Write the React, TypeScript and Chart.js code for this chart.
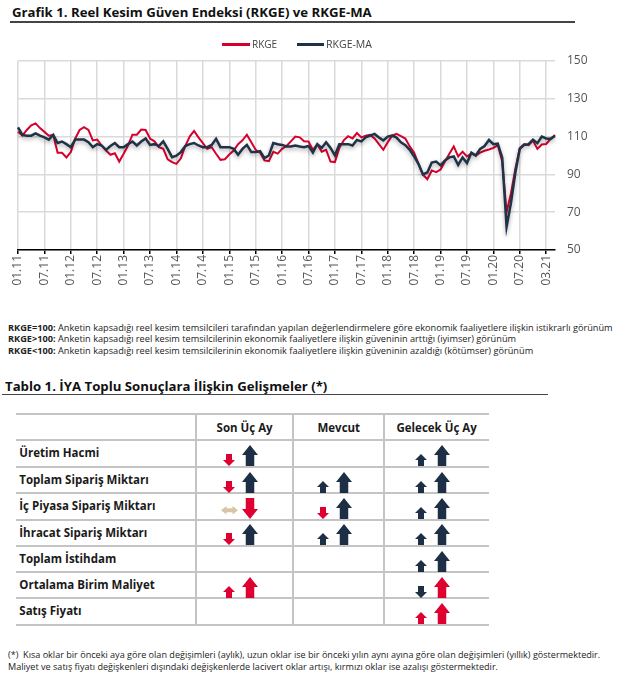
import React, { useEffect, useLayoutEffect, useRef, useState } from "react";
import { Chart, registerables } from "chart.js";

Chart.register(...registerables);

// ---------------- DATA ----------------
const START_YEAR = 2011;
const N_MONTHS = 123;
const MONTHS: string[] = Array.from({ length: N_MONTHS }, (_, i) => {
  const m = (i % 12) + 1;
  const y = (START_YEAR + Math.floor(i / 12)) % 100;
  return `${String(m).padStart(2, "0")}.${String(y).padStart(2, "0")}`;
});

const TICK_LABELS = [
  "01.11", "07.11", "01.12", "07.12", "01.13", "07.13", "01.14", "07.14", "01.15", "07.15",
  "01.16", "07.16", "01.17", "07.17", "01.18", "07.18", "01.19", "07.19", "01.20", "07.20", "03.21",
];

const RKGE = [
  112.6, 110.5, 113.5, 116, 117, 114.5, 112.5, 110.5, 110.9, 101.4, 101.4, 99,
  101.8, 109, 113.5, 115, 113.5, 108, 108.4, 105.3, 102.6, 100.4, 101.2, 96.8,
  100.9, 105.3, 111, 111, 113.7, 113.5, 109, 107.5, 104.4, 103.5, 98, 96.5,
  95.6, 98.5, 105, 110, 113, 109.6, 106.5, 103.5, 104.4, 100.9, 97.7, 98,
  100.5, 102.6, 106, 108, 111, 107, 103, 101.5, 97.4, 97, 102, 101,
  103.5, 105, 107.5, 110, 109.6, 107.5, 107.4, 103, 106, 102, 103, 96.8,
  96.5, 104, 108, 110.2, 109, 111.9, 109.6, 110.5, 111, 109, 106, 103,
  107, 110.5, 111.4, 110.2, 109, 104.8, 101.5, 95.5, 89.8, 87.4, 92.1, 91.2,
  92.6, 96.8, 100.9, 104.8, 99.5, 102, 99.5, 101, 100, 101.5, 102.5, 103.2,
  104, 105.5, 97, 70, 80, 93, 104, 106, 105.5, 107.9, 103.5, 105.8,
  106.1, 108.8, 110.9,
];

const RKGE_MA = [
  114.9, 110.9, 110.5, 110.5, 111.7, 110.5, 109.6, 108.4, 110.9, 106.6, 107.4, 106,
  104.4, 108.4, 108.4, 108.4, 107, 104.4, 106, 105.3, 103, 105, 106.6, 104.4,
  104.4, 106, 107.4, 105.3, 107.4, 109, 105.6, 106, 105, 107.5, 103.5, 99.1,
  99.9, 101.8, 105, 106, 106.6, 105.3, 104.4, 104.4, 105.6, 108.8, 104.4, 104.4,
  104.4, 103.5, 100.4, 103.5, 105.6, 101.8, 101.8, 102.3, 98.6, 100, 106.6, 106,
  105.6, 104.8, 104.8, 105.3, 104.8, 104.4, 105, 101.5, 106, 104, 107, 104,
  100, 106, 106, 106, 105.3, 108.2, 107.5, 109.6, 110.5, 111.4, 109.5, 108,
  110, 110.5, 109.5, 107, 105.5, 103, 99.5, 95.5, 90, 91, 96.3, 96.8,
  94.8, 97.4, 99, 99.5, 95, 99, 96, 101.5, 100, 103.5, 105, 108.2,
  106, 106.3, 99, 62.3, 75, 91, 103.5, 105.6, 106, 108.4, 106.5, 110,
  109, 108.8, 110.3,
];

const Y_MIN = 50;
const Y_MAX = 150;
const Y_STEP = 20;

const TITLE = "Grafik 1. Reel Kesim Güven Endeksi (RKGE) ve RKGE-MA";
const SERIES_NAMES = ["RKGE", "RKGE-MA"];

const NOTES: [string, string][] = [
  ["RKGE=100:", " Anketin kapsadığı reel kesim temsilcileri tarafından yapılan değerlendirmelere göre ekonomik faaliyetlere ilişkin istikrarlı görünüm"],
  ["RKGE>100:", " Anketin kapsadığı reel kesim temsilcilerinin ekonomik faaliyetlere ilişkin güveninin arttığı (iyimser) görünüm"],
  ["RKGE<100:", " Anketin kapsadığı reel kesim temsilcilerinin ekonomik faaliyetlere ilişkin güveninin azaldığı (kötümser) görünüm"],
];

const TABLE_TITLE = "Tablo 1. İYA Toplu Sonuçlara İlişkin Gelişmeler (*)";
const TABLE_COLUMNS = ["Son Üç Ay", "Mevcut", "Gelecek Üç Ay"];
const TABLE_ROWS = [
  "Üretim Hacmi",
  "Toplam Sipariş Miktarı",
  "İç Piyasa Sipariş Miktarı",
  "İhracat Sipariş Miktarı",
  "Toplam İstihdam",
  "Ortalama Birim Maliyet",
  "Satış Fiyatı",
];
// each cell: [short (monthly) arrow, long (yearly) arrow] as "color-direction"
const SON_UC_AY: (string[] | null)[] = [
  ["red-down", "navy-up"],
  ["red-down", "navy-up"],
  ["tan-both", "red-down"],
  ["red-down", "navy-up"],
  null,
  ["red-up", "red-up"],
  null,
];
const MEVCUT: (string[] | null)[] = [
  null,
  ["navy-up", "navy-up"],
  ["red-down", "navy-up"],
  ["navy-up", "navy-up"],
  null,
  null,
  null,
];
const GELECEK_UC_AY: (string[] | null)[] = [
  ["navy-up", "navy-up"],
  ["navy-up", "navy-up"],
  ["navy-up", "navy-up"],
  ["navy-up", "navy-up"],
  ["navy-up", "navy-up"],
  ["navy-down", "red-up"],
  ["red-up", "red-up"],
];

const FOOTNOTES = [
  "(*)  Kısa oklar bir önceki aya göre olan değişimleri (aylık), uzun oklar ise bir önceki yılın aynı ayına göre olan değişimleri (yıllık) göstermektedir.",
  "Maliyet ve satış fiyatı değişkenleri dışındaki değişkenlerde lacivert oklar artışı, kırmızı oklar ise azalışı göstermektedir.",
];

// ---------------- STYLE ----------------
const FONT = "'Open Sans', 'Noto Sans', sans-serif";
const LINE_RED = "#d7002d";
const LINE_NAVY = "#1f3247";
const ARROW_RED = "#df0032";
const ARROW_NAVY = "#1d2f45";
const ARROW_TAN = "#d9c4a6";
const TEXT = "#1a1a1a";

function Fit({ w, style, children }: any) {
  const ref = useRef<HTMLDivElement>(null);
  const [s, setS] = useState(1);
  useLayoutEffect(() => {
    if (ref.current) {
      const n = ref.current.offsetWidth;
      if (n) setS(w / n);
    }
  }, [w]);
  return (
    <div
      ref={ref}
      style={{
        position: "absolute",
        whiteSpace: "pre",
        transform: `scaleX(${s})`,
        transformOrigin: "0 0",
        fontFamily: FONT,
        ...style,
      }}
    >
      {children}
    </div>
  );
}

const shadowPlugin = {
  id: "lineShadow",
  beforeDatasetDraw(chart: any, args: any) {
    if (args.index === 1) {
      const ctx = chart.ctx;
      ctx.save();
      ctx.shadowColor = "rgba(0,0,0,0.35)";
      ctx.shadowBlur = 4;
      ctx.shadowOffsetY = 2;
    }
  },
  afterDatasetDraw(chart: any, args: any) {
    if (args.index === 1) chart.ctx.restore();
  },
};

function LineChart() {
  const ref = useRef<HTMLCanvasElement>(null);
  useEffect(() => {
    if (!ref.current) return;
    const chart = new Chart(ref.current, {
      type: "line",
      data: {
        labels: MONTHS,
        datasets: [
          {
            label: SERIES_NAMES[0],
            data: RKGE,
            borderColor: LINE_RED,
            backgroundColor: LINE_RED,
            borderWidth: 2,
            pointRadius: 0,
            tension: 0,
            order: 1,
          },
          {
            label: SERIES_NAMES[1],
            data: RKGE_MA,
            borderColor: LINE_NAVY,
            backgroundColor: LINE_NAVY,
            borderWidth: 2.5,
            pointRadius: 0,
            tension: 0,
            order: 0,
          },
        ],
      },
      options: {
        animation: false,
        responsive: false,
        maintainAspectRatio: false,
        layout: { padding: { top: 21, left: 18, right: 0, bottom: 0 } },
        plugins: { legend: { display: false }, tooltip: { enabled: false } },
        scales: {
          x: {
            grid: { color: "#dadada", lineWidth: 1.5, tickLength: 4, tickColor: "#000" },
            border: { color: "#000", width: 1.5 },
            ticks: {
              autoSkip: false,
              minRotation: 90,
              maxRotation: 90,
              padding: 1,
              color: "#555",
              font: { family: "Open Sans", size: 12 },
              callback: (_v: any, i: number) => (i % 6 === 0 ? TICK_LABELS[i / 6] : null),
            },
            afterFit: (s: any) => {
              s.height = 50;
            },
          },
          y: {
            position: "right",
            min: Y_MIN,
            max: Y_MAX,
            grid: { color: "#dadada", lineWidth: 1.5, drawTicks: false },
            border: { display: false },
            ticks: {
              stepSize: Y_STEP,
              padding: 12,
              color: "#555",
              font: { family: "Open Sans", size: 12 },
            },
            afterFit: (s: any) => {
              s.width = 63;
            },
          },
        },
      } as any,
      plugins: [shadowPlugin],
    });
    return () => chart.destroy();
  }, []);
  return (
    <canvas
      ref={ref}
      width={618}
      height={260}
      style={{ position: "absolute", left: 0, top: 40, width: 618, height: 260 }}
    />
  );
}

function Arrow({ spec, big, cx, bottom }: { spec: string; big: boolean; cx: number; bottom: number }) {
  const [color, dir] = spec.split("-");
  const fill = color === "red" ? ARROW_RED : color === "navy" ? ARROW_NAVY : ARROW_TAN;
  if (dir === "both") {
    const W = 17, H = 8.5, hw = 5.5, sh = 4;
    const pts = [
      [0, H / 2], [hw, 0], [hw, H / 2 - sh / 2], [W - hw, H / 2 - sh / 2], [W - hw, 0], [W, H / 2],
      [W - hw, H], [W - hw, H / 2 + sh / 2], [hw, H / 2 + sh / 2], [hw, H],
    ];
    return (
      <svg width={W} height={H} style={{ position: "absolute", left: cx - W / 2, top: bottom - 4.5 - H }}>
        <polygon points={pts.map((p) => p.join(",")).join(" ")} fill={fill} />
      </svg>
    );
  }
  const W = big ? 16 : 12;
  const H = big ? 21 : 12;
  const hh = big ? 10 : 6;
  const sw = big ? 8.5 : 6;
  let pts = [
    [W / 2, 0], [W, hh], [W / 2 + sw / 2, hh], [W / 2 + sw / 2, H],
    [W / 2 - sw / 2, H], [W / 2 - sw / 2, hh], [0, hh],
  ];
  if (dir === "down") pts = pts.map(([x, y]) => [x, H - y]);
  return (
    <svg width={W} height={H} style={{ position: "absolute", left: cx - W / 2, top: bottom - H }}>
      <polygon points={pts.map((p) => p.join(",")).join(" ")} fill={fill} />
    </svg>
  );
}

function Table() {
  const left = 16;
  const colX = [196, 293.3, 384.3, 489];
  const rowY = [414.3, 440, 466.7, 493.3, 520, 546, 572.3, 598.3, 625];
  const lineColor = "#c4c4c4";
  const cols = [SON_UC_AY, MEVCUT, GELECEK_UC_AY];
  const els: any[] = [];
  rowY.forEach((y, i) =>
    els.push(
      <div key={"h" + i} style={{ position: "absolute", left, top: y - 1, width: colX[3] - left, height: 2, background: lineColor }} />
    )
  );
  colX.slice(0, 3).forEach((x, i) =>
    els.push(
      <div key={"v" + i} style={{ position: "absolute", left: x - 1, top: rowY[0], width: 2, height: rowY[8] - rowY[0], background: lineColor }} />
    )
  );
  TABLE_COLUMNS.forEach((c, i) => {
    const cx = (colX[i] + colX[i + 1]) / 2;
    els.push(
      <div key={"c" + i} style={{ position: "absolute", left: cx - 60, width: 120, top: 427.5 - 8, lineHeight: "16px", textAlign: "center", fontFamily: FONT, fontWeight: 700, fontSize: 11.5, color: TEXT }}>
        {c}
      </div>
    );
  });
  TABLE_ROWS.forEach((r, i) => {
    const top = rowY[i + 1];
    const bottom = rowY[i + 2];
    const cy = (top + bottom) / 2 - 0.5;
    els.push(
      <div key={"r" + i} style={{ position: "absolute", left: 19.3, top: cy - 8, lineHeight: "16px", fontFamily: FONT, fontWeight: 700, fontSize: 11.5, color: TEXT, whiteSpace: "pre" }}>
        {r}
      </div>
    );
    cols.forEach((col, ci) => {
      const cell = col[i];
      if (!cell) return;
      const cx = (colX[ci] + colX[ci + 1]) / 2;
      els.push(<Arrow key={`a${i}-${ci}-s`} spec={cell[0]} big={false} cx={cx - 15.5} bottom={bottom - 0.7} />);
      els.push(<Arrow key={`a${i}-${ci}-b`} spec={cell[1]} big={true} cx={cx + 5} bottom={bottom - 0.7} />);
    });
  });
  return <>{els}</>;
}

export default function App() {
  return (
    <div style={{ position: "absolute", left: 0, top: 0, width: 618, height: 679, background: "#fff", overflow: "hidden", color: TEXT }}>
      <Fit w={360} style={{ left: 12, top: 4, fontSize: 13, lineHeight: "16px", fontWeight: 700, color: "#111" }}>
        {TITLE}
      </Fit>
      <div style={{ position: "absolute", left: 10, top: 21, width: 565, height: 1.5, background: "#444" }} />

      <LineChart />

      {/* legend */}
      <div style={{ position: "absolute", left: 222, top: 43, width: 28, height: 2.5, background: LINE_RED }} />
      <Fit w={25.5} style={{ left: 252, top: 37, fontSize: 11, lineHeight: "14px", color: "#444" }}>
        {SERIES_NAMES[0]}
      </Fit>
      <div style={{ position: "absolute", left: 297, top: 43, width: 27, height: 2.5, background: LINE_NAVY }} />
      <Fit w={46} style={{ left: 326, top: 37, fontSize: 11, lineHeight: "14px", color: "#444" }}>
        {SERIES_NAMES[1]}
      </Fit>

      {/* notes */}
      <Fit w={605} style={{ left: 8, top: 321.5, fontSize: 9, lineHeight: "11.5px", color: "#222" }}>
        {NOTES.map(([b, t], i) => (
          <div key={i}>
            <b>{b}</b>
            {t}
          </div>
        ))}
      </Fit>

      {/* table title */}
      <Fit w={322} style={{ left: 5, top: 377.5, fontSize: 13, lineHeight: "16px", fontWeight: 700, color: "#111" }}>
        {TABLE_TITLE}
      </Fit>
      <div style={{ position: "absolute", left: 2, top: 393.5, width: 546, height: 1.5, background: "#444" }} />

      <Table />

      <Fit w={592} style={{ left: 8, top: 649, fontSize: 9, lineHeight: "11.7px", color: "#222" }}>
        {FOOTNOTES.map((t, i) => (
          <div key={i}>{t}</div>
        ))}
      </Fit>
    </div>
  );
}
